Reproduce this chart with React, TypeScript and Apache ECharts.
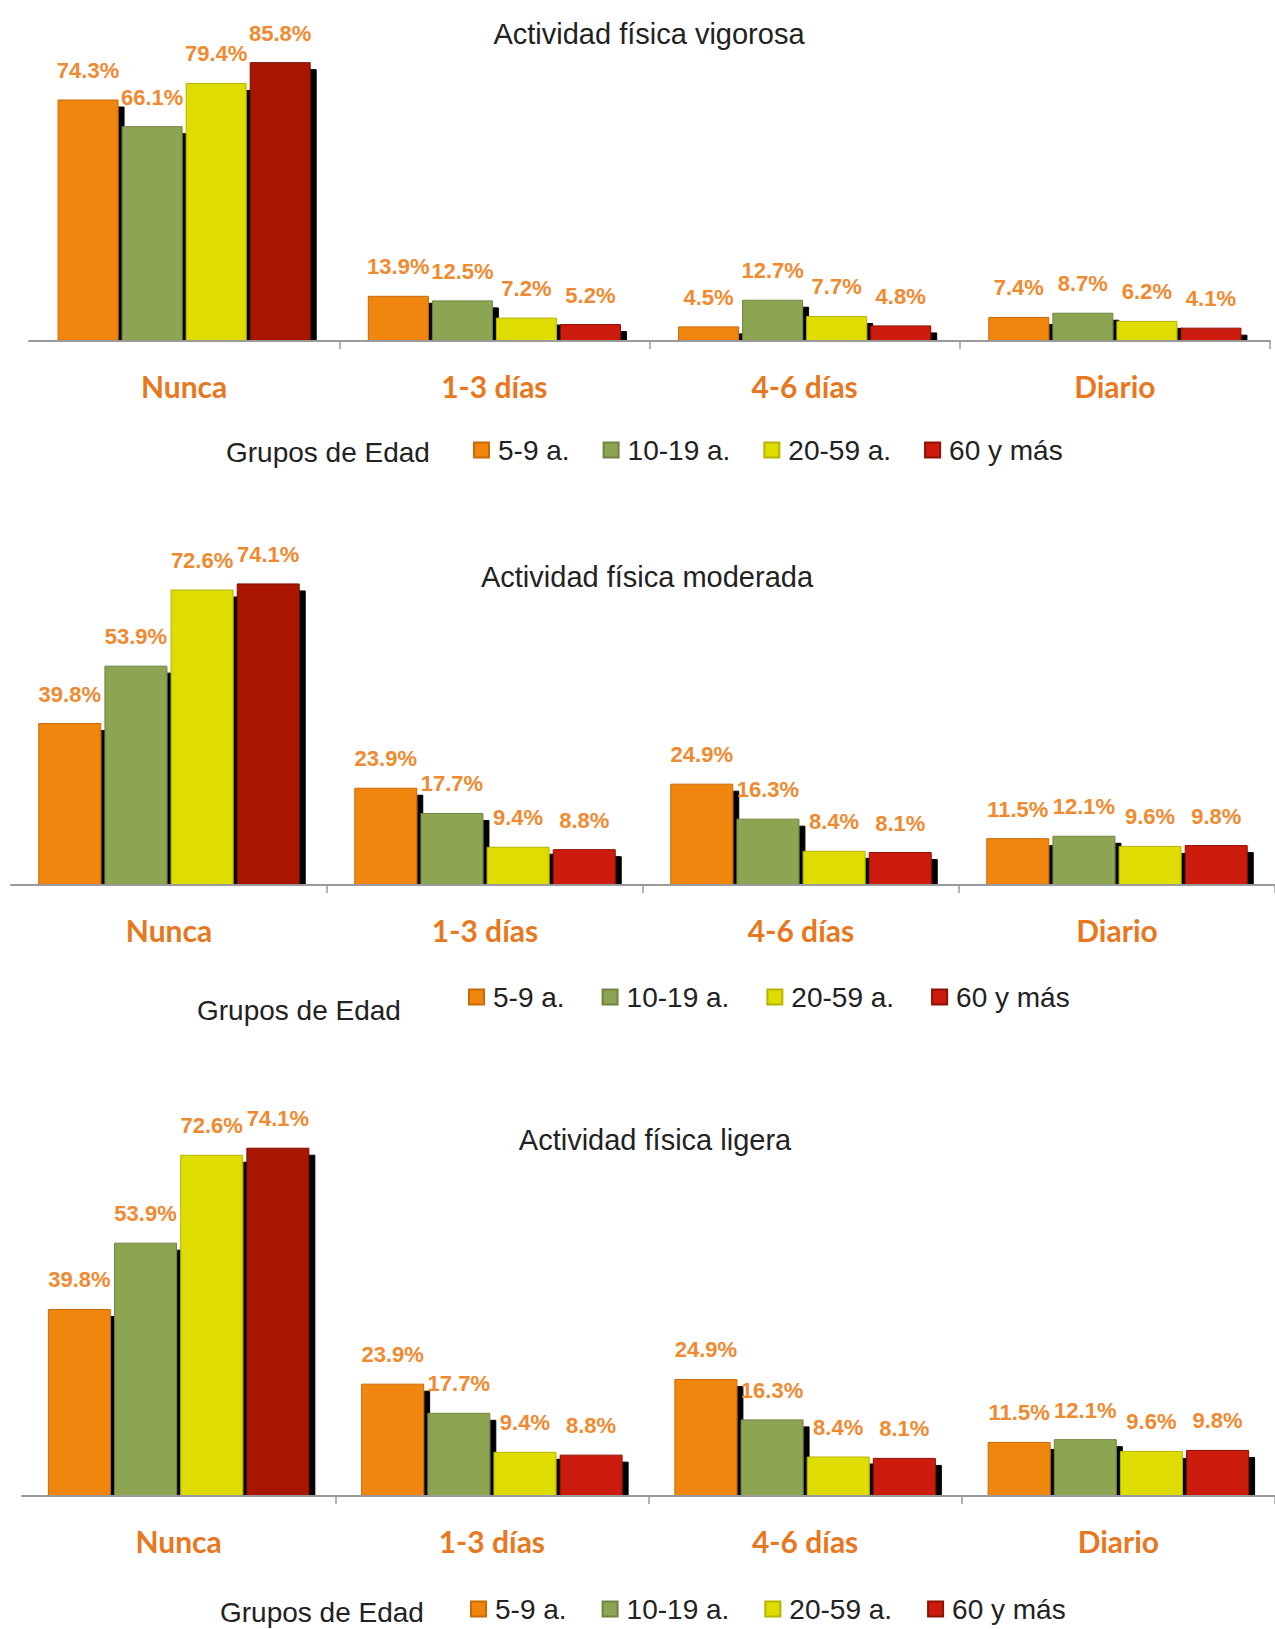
import React, { useEffect, useRef } from "react";
import * as echarts from "echarts";

// ---------- data ----------
const categories = ["Nunca", "1-3 días", "4-6 días", "Diario"];
const groups = ["5-9 a.", "10-19 a.", "20-59 a.", "60 y más"];
const chartTitles = [
  "Actividad física vigorosa",
  "Actividad física moderada",
  "Actividad física ligera",
];
const legendTitle = "Grupos de Edad";

const vigorosa5_9 = [74.3, 13.9, 4.5, 7.4];
const vigorosa10_19 = [66.1, 12.5, 12.7, 8.7];
const vigorosa20_59 = [79.4, 7.2, 7.7, 6.2];
const vigorosa60 = [85.8, 5.2, 4.8, 4.1];

const moderada5_9 = [39.8, 23.9, 24.9, 11.5];
const moderada10_19 = [53.9, 17.7, 16.3, 12.1];
const moderada20_59 = [72.6, 9.4, 8.4, 9.6];
const moderada60 = [74.1, 8.8, 8.1, 9.8];

const ligera5_9 = [39.8, 23.9, 24.9, 11.5];
const ligera10_19 = [53.9, 17.7, 16.3, 12.1];
const ligera20_59 = [72.6, 9.4, 8.4, 9.6];
const ligera60 = [74.1, 8.8, 8.1, 9.8];

const panels = [
  [vigorosa5_9, vigorosa10_19, vigorosa20_59, vigorosa60],
  [moderada5_9, moderada10_19, moderada20_59, moderada60],
  [ligera5_9, ligera10_19, ligera20_59, ligera60],
];

// ---------- styles ----------
const colors = ["#F0860E", "#8DA453", "#DEDC00", "#CC1A0C"];
const borders = ["#C86A08", "#6F8540", "#B5B400", "#8E1200"];
const redTall = "#A81600";
const labelColor = "#F08A30";
const catColor = "#E8781F";
const textFont = "'Liberation Sans', Arial, sans-serif";
const catFont = "Lato, 'Open Sans', sans-serif";

const layout = [
  { left: 29, width: 1241, top: 16, height: 325, title: [649, 34], legend: [473, 435], legendGap: 33, gLabel: [226, 452], barW: 61 },
  { left: 11, width: 1273, top: 478, height: 407, title: [647, 577], legend: [468, 982], legendGap: 37, gLabel: [197, 1010], barW: 63 },
  { left: 22, width: 1263, top: 1026, height: 470, title: [655, 1140], legend: [470, 1594], legendGap: 35, gLabel: [220, 1612], barW: 63 },
];

export default function App() {
  const ref = useRef<HTMLDivElement>(null);
  useEffect(() => {
    document.body.style.margin = "0";
    if (!ref.current) return;
    const chart = echarts.init(ref.current, undefined, { renderer: "svg" });

    const grid: any[] = [];
    const xAxis: any[] = [];
    const yAxis: any[] = [];
    const series: any[] = [];
    const legend: any[] = [];
    const graphic: any[] = [];

    layout.forEach((L, p) => {
      grid.push({ left: L.left, top: L.top, width: L.width, height: L.height, containLabel: false });
      xAxis.push({
        type: "category",
        gridIndex: p,
        data: categories,
        z: 10,
        axisLine: { show: true, lineStyle: { color: "#9A9A9A", width: 2 } },
        axisTick: {
          show: true,
          length: 8,
          interval: (i: number) => i !== 0,
          lineStyle: { color: "#9A9A9A", width: 1.5 },
        },
        axisLabel: {
          margin: 30,
          color: catColor,
          fontFamily: catFont,
          fontWeight: "bold",
          fontSize: 30,
        },
      });
      yAxis.push({ type: "value", gridIndex: p, min: 0, max: 100, show: false, splitLine: { show: false } });

      panels[p].forEach((vals, s) => {
        series.push({
          type: "bar",
          name: groups[s],
          xAxisIndex: p,
          yAxisIndex: p,
          barWidth: L.barW,
          barGap: "5%",
          data: vals.map((v, i) =>
            s === 3 && i === 0
              ? { value: v, itemStyle: { color: redTall, borderColor: "#7A0E00" } }
              : v
          ),
          itemStyle: {
            color: colors[s],
            borderColor: borders[s],
            borderWidth: 1,
            shadowColor: "rgba(0,0,0,1)",
            shadowBlur: 1,
            shadowOffsetX: 6,
            shadowOffsetY: 7,
          },
          label: {
            show: true,
            position: "top",
            distance: 18,
            color: labelColor,
            fontFamily: textFont,
            fontWeight: "bold",
            fontSize: 22,
            formatter: (d: any) => d.value.toFixed(1) + "%",
          },
        });
      });

      legend.push({
        left: L.legend[0],
        top: L.legend[1],
        padding: 0,
        itemGap: L.legendGap,
        itemWidth: 15,
        itemHeight: 15,
        icon: "rect",
        data: groups,
        selectedMode: false,
        textStyle: {
          color: "#222",
          fontFamily: textFont,
          fontSize: 28,
          lineHeight: 30,
          padding: [0, 0, 0, 4],
        },
      });

      // white band that hides the bar shadows below the axis line
      graphic.push({
        type: "rect",
        z: 5,
        shape: { x: 0, y: L.top + L.height + 1, width: 1275, height: 10 },
        style: { fill: "#ffffff" },
        silent: true,
      });

      graphic.push({
        type: "text",
        x: L.title[0],
        y: L.title[1],
        style: {
          text: chartTitles[p],
          fill: "#222",
          font: `29px ${textFont}`,
          align: "center",
          verticalAlign: "middle",
        },
      });
      graphic.push({
        type: "text",
        x: L.gLabel[0],
        y: L.gLabel[1],
        style: {
          text: legendTitle,
          fill: "#222",
          font: `28px ${textFont}`,
          align: "left",
          verticalAlign: "middle",
        },
      });
    });

    chart.setOption({
      animation: false,
      backgroundColor: "#ffffff",
      grid,
      xAxis,
      yAxis,
      series,
      legend,
      graphic,
    });
    return () => chart.dispose();
  }, []);
  return <div ref={ref} style={{ width: 1275, height: 1629 }} />;
}
